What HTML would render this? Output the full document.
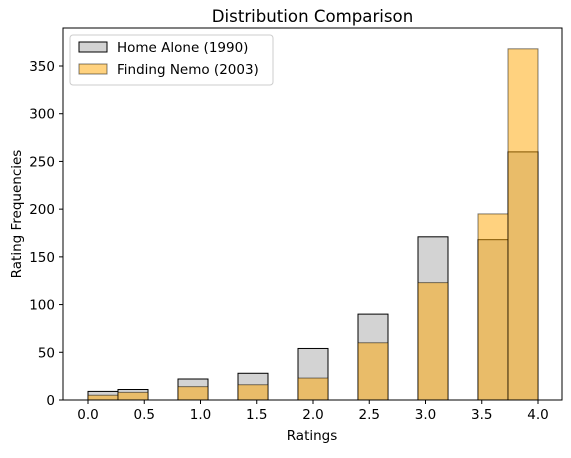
<!DOCTYPE html>
<html><head><meta charset="utf-8"><style>
body{margin:0;background:#fff}
svg text{font-family:"DejaVu Sans","Liberation Sans",sans-serif;fill:#000}
</style></head><body>
<svg id="c" width="571" height="453" xmlns="http://www.w3.org/2000/svg">
<rect width="571" height="453" fill="#fff"/>
<text x="312.5" y="22" font-size="16.6" text-anchor="middle">Distribution Comparison</text>
<g id="bars"></g>
<rect x="63" y="28" width="499" height="372" fill="none" stroke="#000" stroke-width="1"/>
<g id="ticks"></g>
<text x="312" y="440" font-size="13.5" text-anchor="middle">Ratings</text>
<text transform="translate(21,214) rotate(-90)" font-size="13.5" text-anchor="middle">Rating Frequencies</text>
<g>
<rect x="70" y="35" width="203" height="50" fill="#fff" fill-opacity="0.8" stroke="#ccc" rx="3"/>
<g><rect x="79" y="42" width="28" height="10" fill="#d3d3d3" stroke="#000"/>
<text x="117" y="52" font-size="13.5">Home Alone (1990)</text></g>
<g><rect x="79" y="64" width="28" height="10" fill="#ffa500" fill-opacity="0.5" stroke="#000" stroke-opacity="0.5"/>
<text x="117" y="74" font-size="13.5">Finding Nemo (2003)</text></g>
</g>
</svg>
<script>
const binStart = 0, binEnd = 4, binCount = 15;
const homeAlone = [9, 11, 0, 22, 0, 28, 0, 54, 0, 90, 0, 171, 0, 168, 260];
const findingNemo = [5, 8, 0, 14, 0, 16, 0, 23, 0, 60, 0, 123, 0, 195, 368];
const xTicks = [0, 0.5, 1, 1.5, 2, 2.5, 3, 3.5, 4];
const yTicks = [0, 50, 100, 150, 200, 250, 300, 350];
const NS = "http://www.w3.org/2000/svg";
const xs = v => 88 + (v - 0) * 112.5;
const ys = v => 400 - v * (334 / 350);
const bw = (binEnd - binStart) / binCount;
const bars = document.getElementById('bars');
function drawSeries(vals, fill, op, stroke, sop, name) {
  vals.forEach((v, i) => {
    if (v <= 0) return;
    const r = document.createElementNS(NS, 'rect');
    const x0 = xs(binStart + i * bw), x1 = xs(binStart + (i + 1) * bw);
    r.setAttribute('x', x0); r.setAttribute('width', x1 - x0);
    r.setAttribute('y', ys(v)); r.setAttribute('height', ys(0) - ys(v));
    r.setAttribute('fill', fill); r.setAttribute('fill-opacity', op);
    r.setAttribute('stroke', stroke); r.setAttribute('stroke-opacity', sop);
    
    
    bars.appendChild(r);
  });
}
drawSeries(homeAlone, '#d3d3d3', 1, '#000', 1, 'home-alone');
drawSeries(findingNemo, '#ffa500', 0.5, '#000', 0.5, 'finding-nemo');
const t = document.getElementById('ticks');
xTicks.forEach(v => {
  const x = xs(v);
  const l = document.createElementNS(NS, 'line');
  l.setAttribute('x1', x); l.setAttribute('x2', x); l.setAttribute('y1', 400); l.setAttribute('y2', 404);
  l.setAttribute('stroke', '#000');
  
  
  t.appendChild(l);
  const tx = document.createElementNS(NS, 'text');
  tx.setAttribute('x', x); tx.setAttribute('y', 419); tx.setAttribute('font-size', '13.5'); tx.setAttribute('text-anchor', 'middle');
  tx.textContent = v.toFixed(1);
  
  
  t.appendChild(tx);
});
yTicks.forEach(v => {
  const y = ys(v);
  const l = document.createElementNS(NS, 'line');
  l.setAttribute('x1', 59); l.setAttribute('x2', 63); l.setAttribute('y1', y); l.setAttribute('y2', y);
  l.setAttribute('stroke', '#000');
  
  
  t.appendChild(l);
  const tx = document.createElementNS(NS, 'text');
  tx.setAttribute('x', 55); tx.setAttribute('y', y + 5); tx.setAttribute('font-size', '13.5'); tx.setAttribute('text-anchor', 'end');
  tx.textContent = v;
  
  
  t.appendChild(tx);
});
</script>
</body></html>
